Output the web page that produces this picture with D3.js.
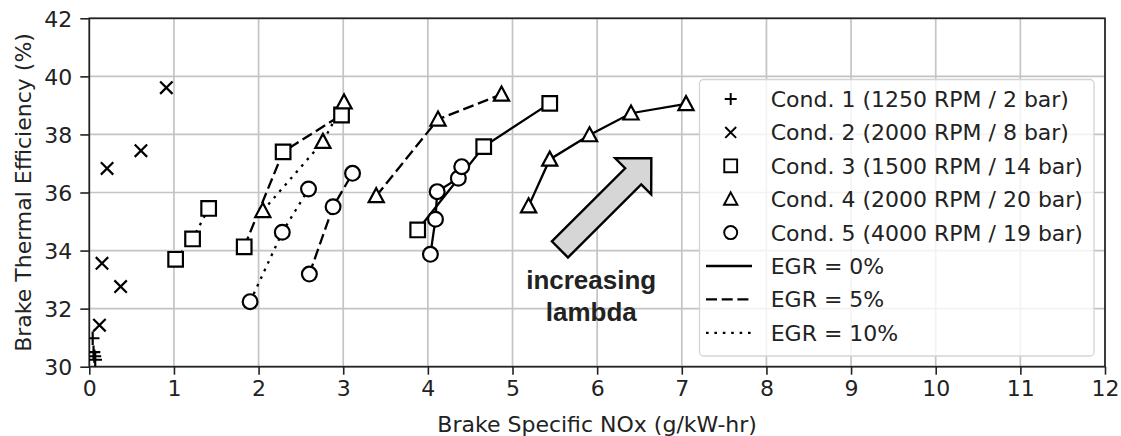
<!DOCTYPE html>
<html>
<head>
<meta charset="utf-8">
<script src="https://cdn.jsdelivr.net/npm/d3@7"></script>
<style>
  html, body { margin: 0; padding: 0; background: #fff; }
  svg { display: block; }
  text { font-family: "DejaVu Sans", sans-serif; fill: #222; }
</style>
</head>
<body>
<svg id="chart" width="1121" height="436"></svg>
<script>
// ---------------- data ----------------
const xTicks = [0, 1, 2, 3, 4, 5, 6, 7, 8, 9, 10, 11, 12];
const yTicks = [30, 32, 34, 36, 38, 40, 42];

const condLabels = [
  "Cond. 1 (1250 RPM / 2 bar)",
  "Cond. 2 (2000 RPM / 8 bar)",
  "Cond. 3 (1500 RPM / 14 bar)",
  "Cond. 4 (2000 RPM / 20 bar)",
  "Cond. 5 (4000 RPM / 19 bar)"
];
const egrLabels = ["EGR = 0%", "EGR = 5%", "EGR = 10%"];

// [NOx, BTE] pairs
const cond1Points = [[0.04, 30.98], [0.05, 30.50], [0.06, 30.36], [0.07, 30.24]];
const cond2Points = [[0.91, 39.61], [0.61, 37.44], [0.21, 36.83], [0.15, 33.56], [0.37, 32.76], [0.12, 31.43]];

const cond3Egr10 = [[1.02, 33.70], [1.22, 34.40], [1.41, 35.45]];
const cond3Egr5  = [[1.83, 34.13], [2.29, 37.40], [2.98, 38.67]];
const cond3Egr0  = [[3.88, 34.71], [4.66, 37.58], [5.44, 39.07]];

const cond4Egr10 = [[2.05, 35.37], [2.76, 37.75], [3.01, 39.11]];
const cond4Egr5  = [[3.39, 35.88], [4.12, 38.52], [4.87, 39.38]];
const cond4Egr0  = [[5.19, 35.53], [5.44, 37.14], [5.91, 37.98], [6.40, 38.73], [7.05, 39.05]];

const cond5Egr10 = [[1.90, 32.24], [2.28, 34.63], [2.59, 36.12]];
const cond5Egr5  = [[2.60, 33.19], [2.88, 35.51], [3.11, 36.66]];
const cond5Egr0  = [[4.03, 33.87], [4.09, 35.08], [4.11, 36.03], [4.36, 36.49], [4.40, 36.89]];

const annotationLines = ["increasing", "lambda"];
const arrowTail = [5.56, 34.04];
const arrowTip  = [6.64, 37.18];
const annotationAnchor = [5.93, 32.66];

// series table built from the arrays (egr: null => markers only)
const series = [
  { cond: 0, egr: null, points: cond1Points },
  { cond: 1, egr: null, points: cond2Points },
  { cond: 2, egr: 2, points: cond3Egr10 },
  { cond: 2, egr: 1, points: cond3Egr5 },
  { cond: 2, egr: 0, points: cond3Egr0 },
  { cond: 3, egr: 2, points: cond4Egr10 },
  { cond: 3, egr: 1, points: cond4Egr5 },
  { cond: 3, egr: 0, points: cond4Egr0 },
  { cond: 4, egr: 2, points: cond5Egr10 },
  { cond: 4, egr: 1, points: cond5Egr5 },
  { cond: 4, egr: 0, points: cond5Egr0 }
];

// ---------------- layout / styles ----------------
const W = 1121, H = 436;
const margin = { left: 89.3, right: 16, top: 18.3, bottom: 69.3 };
const dashes = [null, "11,4.7", "2.6,5.8"];

const svg = d3.select("#chart");
const x = d3.scaleLinear().domain([0, 12]).range([margin.left, W - margin.right]);
const y = d3.scaleLinear().domain([30, 42]).range([H - margin.bottom, margin.top]);

// grid
const grid = svg.append("g");
grid.selectAll("line.gx").data(xTicks).join("line")
  .attr("x1", d => x(d)).attr("x2", d => x(d))
  .attr("y1", y(30)).attr("y2", y(42))
  .attr("stroke", "#c4c4c4").attr("stroke-width", 1.7);
grid.selectAll("line.gy").data(yTicks).join("line")
  .attr("y1", d => y(d)).attr("y2", d => y(d))
  .attr("x1", x(0)).attr("x2", x(12))
  .attr("stroke", "#c4c4c4").attr("stroke-width", 1.7);

// axes
const xAxis = d3.axisBottom(x).tickValues(xTicks).tickSize(8).tickPadding(5).tickFormat(d3.format("d"));
const yAxis = d3.axisLeft(y).tickValues(yTicks).tickSize(9).tickPadding(8).tickFormat(d3.format("d"));
const gx = svg.append("g").attr("transform", `translate(0,${y(30)})`).call(xAxis);
const gy = svg.append("g").attr("transform", `translate(${x(0)},0)`).call(yAxis);
[gx, gy].forEach(g => {
  g.select(".domain").remove();
  g.selectAll(".tick line").attr("stroke", "#222").attr("stroke-width", 1.6);
  g.selectAll(".tick text").attr("font-size", 22).attr("fill", "#222")
    .attr("font-family", "DejaVu Sans, sans-serif");
});
gx.selectAll(".tick text").attr("dy", "0.76em").attr("y", 13);
gy.selectAll(".tick text").attr("dy", "0.36em");

// frame
svg.append("rect")
  .attr("x", x(0)).attr("y", y(42))
  .attr("width", x(12) - x(0)).attr("height", y(30) - y(42))
  .attr("fill", "none").attr("stroke", "#222").attr("stroke-width", 1.7);

// axis labels
svg.append("text")
  .attr("x", (x(0) + x(12)) / 2).attr("y", 431.5)
  .attr("text-anchor", "middle").attr("font-size", 22)
  .text("Brake Specific NOx (g/kW-hr)");
svg.append("text")
  .attr("transform", `translate(31,${(y(30) + y(42)) / 2}) rotate(-90)`)
  .attr("text-anchor", "middle").attr("font-size", 22)
  .text("Brake Thermal Efficiency (%)");

// marker shapes
function markerPath(cond) {
  if (cond === 0) { const s = 6.8; return `M${-s},0H${s}M0,${-s}V${s}`; }
  if (cond === 1) { const s = 6.2; return `M${-s},${-s}L${s},${s}M${-s},${s}L${s},${-s}`; }
  if (cond === 2) { const s = 7.3; return `M${-s},${-s}H${s}V${s}H${-s}Z`; }
  if (cond === 3) { const w = 7.6, h = 7.8; return `M0,${-h}L${w},${h * 0.8}L${-w},${h * 0.8}Z`; }
  return d3.symbol().type(d3.symbolCircle).size(Math.PI * 7.4 * 7.4)();
}

// data layer with clip
svg.append("clipPath").attr("id", "plotclip").append("rect")
  .attr("x", x(0)).attr("y", y(42))
  .attr("width", x(12) - x(0)).attr("height", y(30) - y(42));
const plot = svg.append("g").attr("clip-path", "url(#plotclip)");

const line = d3.line().x(d => x(d[0])).y(d => y(d[1]));
series.filter(s => s.egr !== null).forEach(s => {
  plot.append("path")
    .attr("d", line(s.points))
    .attr("fill", "none").attr("stroke", "#000").attr("stroke-width", 2.3)
    .attr("stroke-dasharray", dashes[s.egr]);
});
series.forEach(s => {
  plot.selectAll(null).data(s.points).join("path")
    .attr("transform", d => `translate(${x(d[0])},${y(d[1])})`)
    .attr("d", markerPath(s.cond))
    .attr("fill", (s.cond >= 2) ? "#fff" : "none")
    .attr("stroke", "#000").attr("stroke-width", 2.2);
});

// annotation arrow
(function () {
  const tx = x(arrowTail[0]), ty = y(arrowTail[1]);
  const px = x(arrowTip[0]), py = y(arrowTip[1]);
  const L = Math.hypot(px - tx, py - ty);
  const ang = Math.atan2(py - ty, px - tx) * 180 / Math.PI;
  const sw = 11.4, hw = 25.5, hl = 25.6;
  const pts = [[0, -sw], [L - hl, -sw], [L - hl, -hw], [L, 0], [L - hl, hw], [L - hl, sw], [0, sw]];
  svg.append("path")
    .attr("transform", `translate(${tx},${ty}) rotate(${ang})`)
    .attr("d", "M" + pts.map(p => p.join(",")).join("L") + "Z")
    .attr("fill", "#d6d6d6").attr("stroke", "#000").attr("stroke-width", 2.4)
    .attr("stroke-linejoin", "miter");
  const at = svg.append("text")
    .attr("x", x(annotationAnchor[0])).attr("y", y(annotationAnchor[1]))
    .attr("text-anchor", "middle")
    .style("font-family", "'Liberation Sans', Arial, sans-serif")
    .attr("font-weight", "bold").attr("font-size", 26).attr("fill", "#111");
  annotationLines.forEach((t, i) => {
    at.append("tspan").attr("x", x(annotationAnchor[0])).attr("dy", i === 0 ? 0 : 32).text(t);
  });
})();

// legend
const leg = svg.append("g");
leg.append("rect")
  .attr("x", 699.5).attr("y", 79.5).attr("width", 394.5).attr("height", 276.5)
  .attr("rx", 4).attr("ry", 4)
  .attr("fill", "#fff").attr("fill-opacity", 0.8)
  .attr("stroke", "#d4d4d4").attr("stroke-width", 1.3);
const rowY = i => 99 + i * 33.4;
condLabels.forEach((lab, i) => {
  leg.append("path")
    .attr("d", markerPath(i))
    .attr("fill", i >= 2 ? "#fff" : "none").attr("stroke", "#000").attr("stroke-width", 2.2)
    .attr("transform", `translate(730.7,${rowY(i)}) scale(0.88)`);
  leg.append("text").attr("x", 770.7).attr("y", rowY(i)).attr("dy", "0.36em")
    .attr("font-size", 22).text(lab);
});
egrLabels.forEach((lab, j) => {
  const i = j + condLabels.length;
  leg.append("line")
    .attr("x1", 706).attr("x2", 752).attr("y1", rowY(i)).attr("y2", rowY(i))
    .attr("stroke", "#000").attr("stroke-width", 2.3)
    .attr("stroke-dasharray", dashes[j]);
  leg.append("text").attr("x", 770.7).attr("y", rowY(i)).attr("dy", "0.36em")
    .attr("font-size", 22).text(lab);
});
</script>
</body>
</html>
